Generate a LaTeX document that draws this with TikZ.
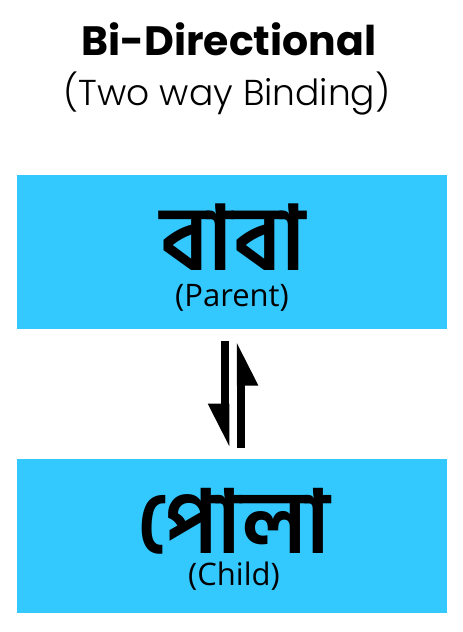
\documentclass[tikz,border=0pt]{standalone}
\usepackage{fontspec}
\usetikzlibrary{arrows.meta}
\newfontfamily\popfont{Poppins}
\newfontfamily\poplight{Poppins Light}
\newfontfamily\banglafont[Script=Bengali]{Hind Siliguri}
\newfontfamily\labelfont{Open Sans}
\definecolor{mycyan}{RGB}{51,201,255}

\begin{document}
\begin{tikzpicture}[x=1pt,y=-1pt]
\tikzset{
  box/.style={fill=mycyan,minimum width=430pt,minimum height=154pt,inner sep=0pt},
  harp/.style={line width=8.5pt,-{Triangle[harpoon,swap,length=35pt,width=32pt]}},
  word/.style={anchor=base,inner sep=0pt},
}
\useasboundingbox (0,0) rectangle (463,632);

\node[word] (title) at (229,55) {\popfont\bfseries\fontsize{41}{41}\selectfont Bi-Directional};
\node[word] (subtitle) at (227,105) {\poplight\fontsize{36}{36}\selectfont (Two way Binding)};

\node[box] (parent) at (232,252) {};
\node[box] (child) at (232,536) {};

\node[word] (baba) at (233,270) {\banglafont\bfseries\fontsize{90}{90}\selectfont বাবা};
\node[word] (parentlabel) at (232,306) {\labelfont\fontsize{31}{31}\selectfont (Parent)};
\node[word] (pola) at (234,553) {\banglafont\bfseries\fontsize{88}{88}\selectfont পোলা};
\node[word] (childlabel) at (234,585) {\labelfont\fontsize{31}{31}\selectfont (Child)};

% two way binding
\draw[harp] ([xshift=-7pt,yshift=-12pt]parent.south) -- ([xshift=-7pt,yshift=11pt]child.north);
\draw[harp] ([xshift=9pt,yshift=11pt]child.north) -- ([xshift=9pt,yshift=-12pt]parent.south);
\end{tikzpicture}
\end{document}
